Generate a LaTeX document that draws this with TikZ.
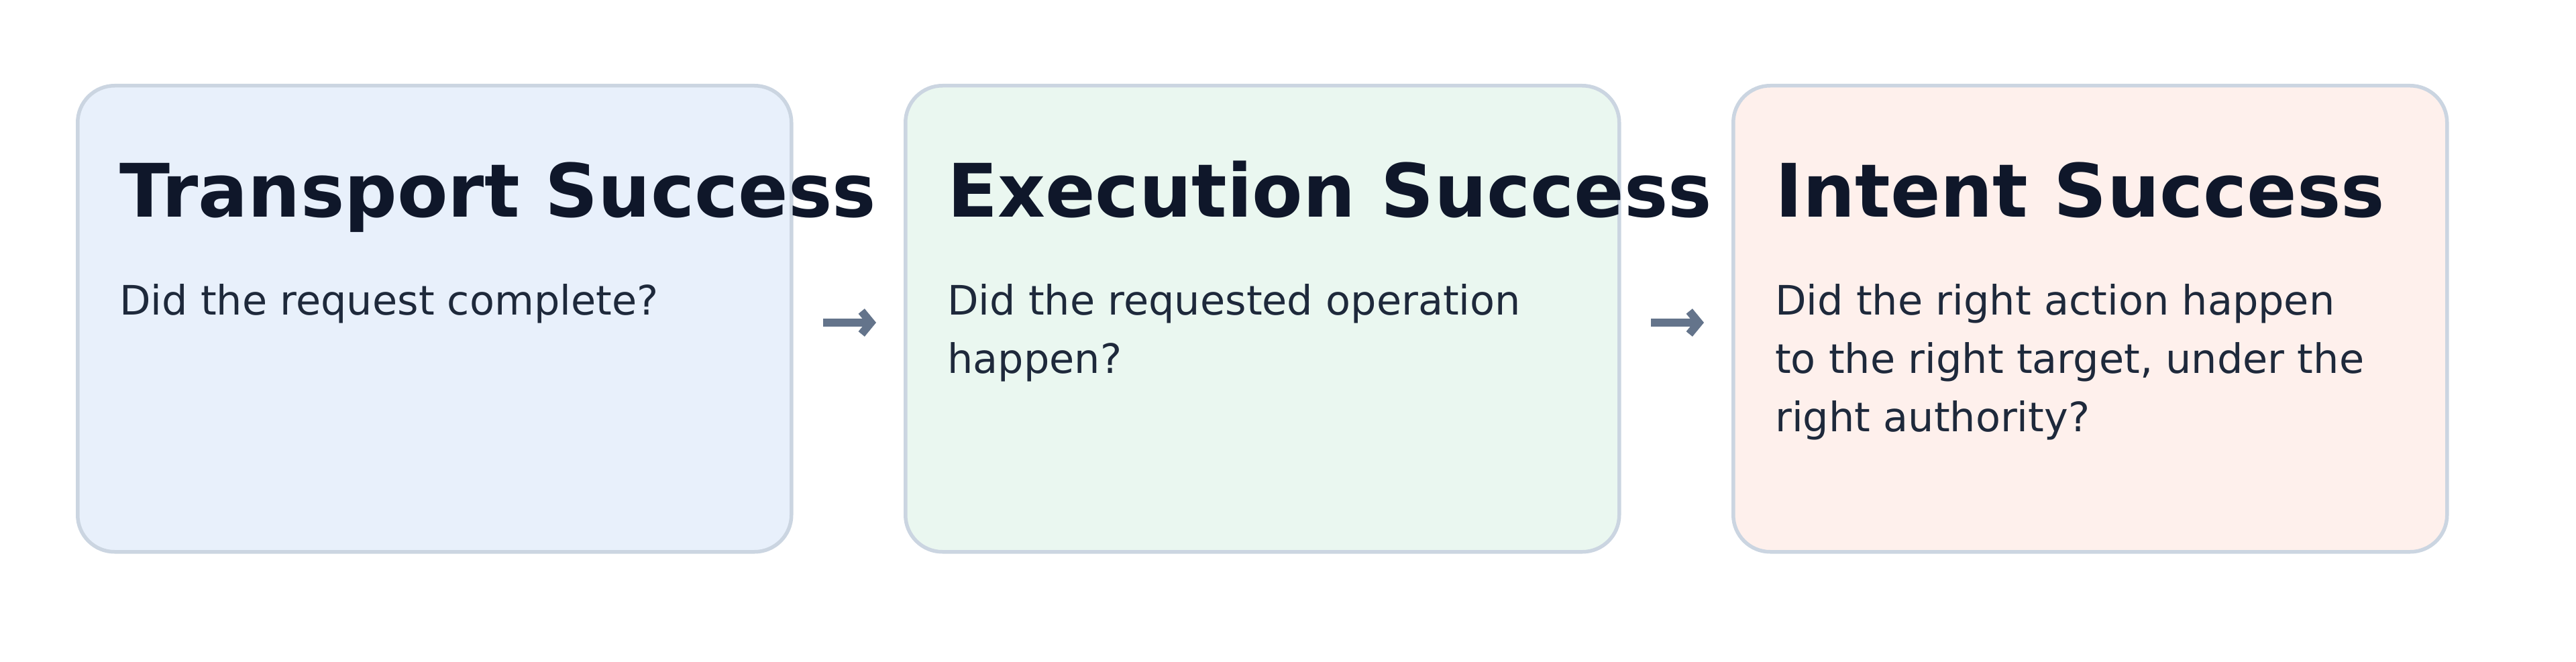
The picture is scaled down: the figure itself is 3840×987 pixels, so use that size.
\documentclass[tikz,border=0pt]{standalone}
\usepackage{fontspec}
\setmainfont{DejaVu Sans}
\usetikzlibrary{arrows.meta}
\definecolor{boxline}{HTML}{CBD5E1}
\definecolor{fillA}{HTML}{E8F0FB}
\definecolor{fillB}{HTML}{EAF7F0}
\definecolor{fillC}{HTML}{FEF0EC}
\definecolor{titlec}{HTML}{0F172A}
\definecolor{bodyc}{HTML}{1E293B}
\definecolor{arrowc}{HTML}{64748B}
\begin{document}
\begin{tikzpicture}[x=1pt,y=-1pt,
  card/.style={draw=boxline, line width=5.5pt, rounded corners=55pt, minimum width=1064pt, minimum height=695pt, inner sep=0pt, anchor=north west},
  cardtitle/.style={anchor=base west, inner sep=0pt, text=titlec, font=\fontsize{110}{132}\selectfont\bfseries},
  cardbody/.style={anchor=base west, inner sep=0pt, text=bodyc, font=\fontsize{60.5}{87}\selectfont},
  flow/.style={draw=arrowc, line width=12pt, -{Straight Barb[length=14pt,width=34pt]}}
]
\useasboundingbox (0,0) rectangle (3840,987);
\node[card, fill=fillA] (b1) at (113,125) {};
\node[card, fill=fillB] (b2) at (1347,125) {};
\node[card, fill=fillC] (b3) at (2581,125) {};

\node[cardtitle] (t1) at (178,323) {Transport Success};
\node[cardtitle] (t2) at (1412,323) {Execution Success};
\node[cardtitle] (t3) at (2646,323) {Intent Success};

\node[cardbody] (d1) at (178,469) {\parbox[t]{1000pt}{Did the request complete?}};
\node[cardbody] (d2) at (1412,469) {\parbox[t]{1000pt}{Did the requested operation\\happen?}};
\node[cardbody] (d3) at (2646,469) {\parbox[t]{1000pt}{Did the right action happen\\to the right target, under the\\right authority?}};

\coordinate (a1s) at (1227,481);
\coordinate (a1e) at (1306,481);
\coordinate (a2s) at (2461,481);
\coordinate (a2e) at (2540,481);
\draw[flow] (a1s) -- (a1e);
\draw[flow] (a2s) -- (a2e);
\end{tikzpicture}
\end{document}
